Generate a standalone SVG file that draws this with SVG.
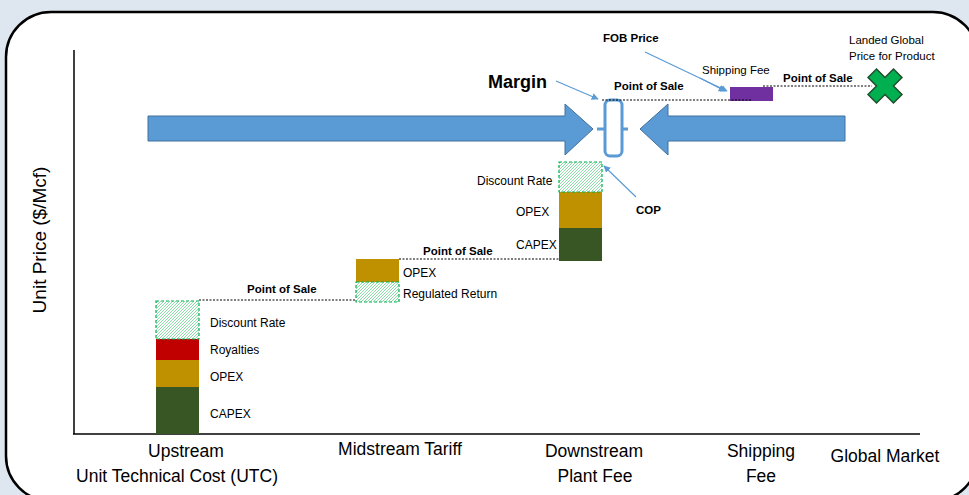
<svg xmlns="http://www.w3.org/2000/svg" width="969" height="495" viewBox="0 0 969 495">
<defs>
<pattern id="hatch" patternUnits="userSpaceOnUse" width="3" height="3">
<rect width="3" height="3" fill="#ffffff"/>
<path d="M-1,1 L1,-1 M0,3 L3,0 M2,4 L4,2" stroke="#3ec46f" stroke-width="0.6"/>
</pattern>
<marker id="ah" viewBox="0 0 10 10" refX="9" refY="5" markerWidth="7" markerHeight="7" orient="auto" markerUnits="userSpaceOnUse">
<path d="M0,0 L10,5 L0,10 z" fill="#5b9bd5"/>
</marker>
<style>
.t{font-family:"Liberation Sans",Arial,sans-serif;fill:#000}
.s{font-size:12px}
.b{font-size:11.5px;font-weight:bold}
.ax{font-size:17.5px}
.dot{stroke:#000;stroke-width:1;stroke-dasharray:2,1.5;fill:none}
.cap{fill:#375623}
.opx{fill:#bf9000}
.roy{fill:#c00000}
.hat{fill:url(#hatch);stroke:#00b050;stroke-width:1.2;stroke-dasharray:3,2}
.big{fill:#5b9bd5;stroke:#41719c;stroke-width:1}
.thin{stroke:#5b9bd5;stroke-width:1.2;fill:none;marker-end:url(#ah)}
</style>
</defs>
<rect width="969" height="495" fill="#dee6ef"/>
<rect x="6" y="12" width="972" height="489" rx="45" ry="45" fill="#ffffff" stroke="#000" stroke-width="2.5"/>

<g id="axes">
<line x1="74" y1="50" x2="74" y2="434" stroke="#000" stroke-width="1.5"/>
<line x1="73" y1="434" x2="920" y2="434" stroke="#000" stroke-width="1.5"/>
<text class="t" font-size="19" transform="translate(46,240) rotate(-90)" text-anchor="middle">Unit Price ($/Mcf)</text>
<text class="t ax" x="186" y="457" text-anchor="middle">Upstream</text>
<text class="t ax" x="177" y="482" text-anchor="middle">Unit Technical Cost (UTC)</text>
<text class="t ax" x="400" y="455" text-anchor="middle">Midstream Tariff</text>
<text class="t ax" x="594" y="457" text-anchor="middle">Downstream</text>
<text class="t ax" x="595" y="482" text-anchor="middle">Plant Fee</text>
<text class="t ax" x="761" y="457" text-anchor="middle">Shipping</text>
<text class="t ax" x="761" y="482" text-anchor="middle">Fee</text>
<text class="t ax" x="885" y="462" text-anchor="middle">Global Market</text>
</g>

<g id="big-arrows">
<polygon class="big" points="148,116 565,116 565,104 593,129 565,155 565,141 148,141"/>
<polygon class="big" points="640,129 668,104 668,116 845,116 845,141 668,141 668,155"/>
</g>

<g id="upstream">
<rect class="cap" x="156" y="387" width="43" height="47"/>
<rect class="opx" x="156" y="360" width="43" height="27"/>
<rect class="roy" x="156" y="339" width="43" height="21"/>
<rect class="hat" x="156" y="301" width="43" height="38"/>
<text class="t s" x="210" y="327">Discount Rate</text>
<text class="t s" x="210" y="354">Royalties</text>
<text class="t s" x="210" y="381">OPEX</text>
<text class="t s" x="210" y="418">CAPEX</text>
</g>

<g id="midstream">
<rect class="opx" x="356" y="259" width="43" height="23"/>
<rect class="hat" x="356" y="282" width="43" height="20"/>
<text class="t s" x="403" y="277">OPEX</text>
<text class="t s" x="403" y="298">Regulated Return</text>
</g>

<g id="downstream">
<rect class="cap" x="559" y="228" width="43" height="33"/>
<rect class="opx" x="559" y="192" width="43" height="36"/>
<rect class="hat" x="559" y="162" width="43" height="30"/>
<text class="t s" x="477" y="185">Discount Rate</text>
<text class="t s" x="516" y="216">OPEX</text>
<text class="t s" x="516" y="249">CAPEX</text>
<text class="t b" x="636" y="214">COP</text>
</g>

<g id="margin">
<rect x="605" y="100" width="17" height="56" rx="5" ry="5" fill="none" stroke="#5b9bd5" stroke-width="3"/>
<line x1="597" y1="129" x2="605" y2="129" stroke="#5b9bd5" stroke-width="3"/>
<line x1="622" y1="129" x2="628" y2="129" stroke="#5b9bd5" stroke-width="3"/>
<text class="t" font-size="18" font-weight="bold" x="488" y="88">Margin</text>
</g>

<g id="shipping">
<rect x="730" y="87" width="43" height="14" fill="#7030a0"/>
<text class="t b" x="603" y="42">FOB Price</text>
<text class="t" font-size="11.5" x="702" y="74">Shipping Fee</text>
</g>

<g id="global">
<polygon points="-6,-18 6,-18 6,-6 18,-6 18,6 6,6 6,18 -6,18 -6,6 -18,6 -18,-6 -6,-6" transform="translate(885,86) rotate(45)" fill="#00b050" stroke="#1f4e2c" stroke-width="1.5"/>
<text class="t" font-size="11.5" x="849" y="44">Landed Global</text>
<text class="t" font-size="11.5" x="849" y="60">Price for Product</text>
</g>

<g id="connectors">
<line class="dot" x1="199" y1="300" x2="356" y2="300"/>
<text class="t b" x="247" y="293">Point of Sale</text>
<line class="dot" x1="399" y1="259" x2="559" y2="259"/>
<text class="t b" x="423" y="255">Point of Sale</text>
<line class="dot" x1="602" y1="100" x2="752" y2="100"/>
<text class="t b" x="614" y="90">Point of Sale</text>
<line class="dot" x1="763" y1="86" x2="872" y2="86"/>
<text class="t b" x="783" y="82">Point of Sale</text>
<line class="thin" x1="556" y1="81" x2="598" y2="99"/>
<line class="thin" x1="645" y1="52" x2="727" y2="91"/>
<line class="thin" x1="700" y1="78" x2="725" y2="91"/>
<line class="thin" x1="636" y1="197" x2="604" y2="166"/>
</g>
</svg>
